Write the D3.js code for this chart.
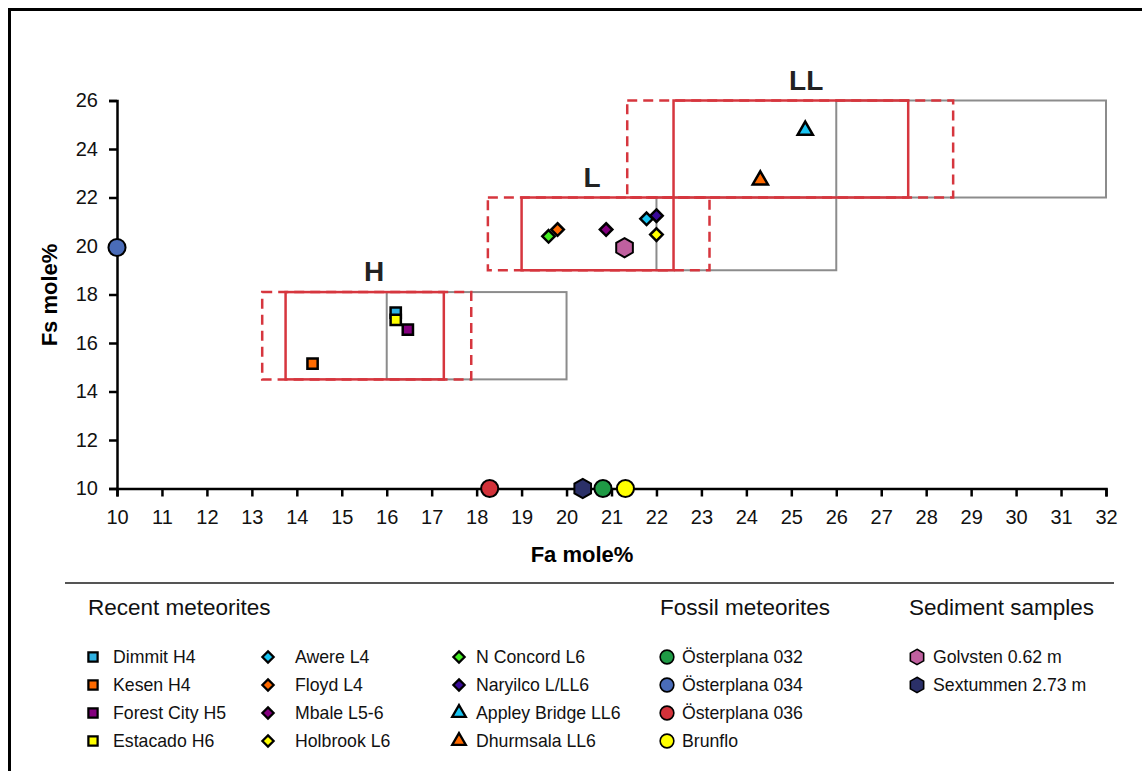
<!DOCTYPE html>
<meta charset="utf-8">
<title>Fa vs Fs mole%</title>
<script src="https://d3js.org/d3.v7.min.js"></script>
<style>
  body { margin: 0; background: #fff; }
  svg { font-family: "Liberation Sans", Arial, sans-serif; }
</style>
<body>
<script>
// ---- data ----
// recent meteorites
var recentNames = ["Dimmit H4", "Kesen H4", "Forest City H5", "Estacado H6",
                   "Awere L4", "Floyd L4", "Mbale L5-6", "Holbrook L6",
                   "N Concord L6", "Naryilco L/LL6", "Appley Bridge LL6", "Dhurmsala LL6"];
var recentFa = [16.2, 14.35, 16.47, 16.2, 21.78, 19.8, 20.88, 22.0, 19.6, 22.0, 25.31, 24.31];
var recentFs = [17.25, 15.15, 16.55, 16.95, 21.12, 20.68, 20.68, 20.47, 20.4, 21.25, 24.85, 22.8];
var recentShape = ["square", "square", "square", "square",
                   "diamond", "diamond", "diamond", "diamond",
                   "diamond", "diamond", "triangle", "triangle"];
var recentColors = ["#2fb0e0", "#ff6a00", "#84007f", "#ffff00",
                    "#19c4f2", "#ff6a00", "#84007f", "#ffff00",
                    "#44ee22", "#3a0a9a", "#19c4f2", "#ff6a00"];

// fossil meteorites
var fossilNames = ["Österplana 032", "Österplana 034", "Österplana 036", "Brunflo"];
var fossilFa = [20.81, 10, 18.29, 21.31];
var fossilFs = [10, 19.94, 10, 10];
var fossilColors = ["#1f9a45", "#4a6cb8", "#d2323a", "#ffff00"];

// sediment samples
var sedimentNames = ["Golvsten 0.62 m", "Sextummen 2.73 m"];
var sedimentFa = [21.29, 20.36];
var sedimentFs = [19.93, 10];
var sedimentColors = ["#c0609f", "#2b3068"];

// ranges of the ordinary chondrite groups
var groups = ["H", "L", "LL"];
var grayFaMin = [16, 22, 26], grayFaMax = [20, 26, 32];
var fsMin = [14.5, 19, 22], fsMax = [18.1, 22, 26];
var redFaMin = [13.75, 19.0, 22.38], redFaMax = [17.27, 22.38, 27.6];
var dashFaMin = [13.23, 18.25, 21.35], dashFaMax = [17.88, 23.18, 28.6];
var labelFa = [15.72, 20.57, 25.33];

var xTicks = d3.range(10, 33, 1);
var yTicks = d3.range(10, 27, 2);

// ---- layout ----
var W = 1142, H = 771;
var svg = d3.select("body").append("svg").attr("width", W).attr("height", H);

var x = d3.scaleLinear().domain([10, 32]).range([117, 1106]);
var y = d3.scaleLinear().domain([10, 26]).range([488.5, 100.5]);

// outer frame (right/bottom edges are off the picture)
svg.append("rect")
    .attr("x", 9.5).attr("y", 9.5).attr("width", 1150).attr("height", 780)
    .attr("fill", "none").attr("stroke", "#000").attr("stroke-width", 3);

var red = "#d6363e";

// gray boxes
groups.forEach(function(g, i) {
  svg.append("rect")
      .attr("x", x(grayFaMin[i])).attr("y", y(fsMax[i]))
      .attr("width", x(grayFaMax[i]) - x(grayFaMin[i]))
      .attr("height", y(fsMin[i]) - y(fsMax[i]))
      .attr("fill", "none").attr("stroke", "#8c8c8c").attr("stroke-width", 2);
});
// dashed red boxes
groups.forEach(function(g, i) {
  svg.append("rect")
      .attr("x", x(dashFaMin[i])).attr("y", y(fsMax[i]))
      .attr("width", x(dashFaMax[i]) - x(dashFaMin[i]))
      .attr("height", y(fsMin[i]) - y(fsMax[i]))
      .attr("fill", "none").attr("stroke", red).attr("stroke-width", 2.5)
      .attr("stroke-dasharray", "10,6");
});
// solid red boxes
groups.forEach(function(g, i) {
  svg.append("rect")
      .attr("x", x(redFaMin[i])).attr("y", y(fsMax[i]))
      .attr("width", x(redFaMax[i]) - x(redFaMin[i]))
      .attr("height", y(fsMin[i]) - y(fsMax[i]))
      .attr("fill", "none").attr("stroke", red).attr("stroke-width", 2.5);
  svg.append("text")
      .attr("x", x(labelFa[i])).attr("y", y(fsMax[i]) - 11)
      .attr("text-anchor", "middle")
      .attr("font-size", 28).attr("font-weight", "bold").attr("fill", "#222")
      .text(g);
});

// axes
var xAxis = svg.append("g")
    .attr("transform", "translate(0," + y(10) + ")")
    .call(d3.axisBottom(x).tickValues(xTicks).tickSize(8).tickPadding(13).tickFormat(d3.format("d")));
var yAxis = svg.append("g")
    .attr("transform", "translate(" + x(10) + ",0)")
    .call(d3.axisLeft(y).tickValues(yTicks).tickSize(8).tickPadding(11).tickFormat(d3.format("d")));
[xAxis, yAxis].forEach(function(a) {
  a.select(".domain").attr("stroke", "#000").attr("stroke-width", 2.5);
  a.selectAll(".tick line").attr("stroke", "#000").attr("stroke-width", 2.5);
  a.selectAll(".tick text").attr("font-size", 20).attr("fill", "#111")
      .attr("font-family", "Liberation Sans, Arial, sans-serif");
});

svg.append("text")
    .attr("x", 582).attr("y", 562)
    .attr("text-anchor", "middle").attr("font-size", 22).attr("font-weight", "bold")
    .text("Fa mole%");
svg.append("text")
    .attr("transform", "translate(57,295) rotate(-90)")
    .attr("text-anchor", "middle").attr("font-size", 22).attr("font-weight", "bold")
    .text("Fs mole%");

// ---- symbols ----
var hexagon = {
  draw: function(ctx, size) {
    var r = Math.sqrt(size / (1.5 * Math.sqrt(3)));
    for (var k = 0; k < 6; k++) {
      var a = Math.PI / 3 * k - Math.PI / 2;
      if (k === 0) ctx.moveTo(r * Math.cos(a), r * Math.sin(a));
      else ctx.lineTo(r * Math.cos(a), r * Math.sin(a));
    }
    ctx.closePath();
  }
};
var symbolTypes = {
  square: d3.symbolSquare,
  diamond: d3.symbolDiamond2,
  triangle: d3.symbolTriangle,
  circle: d3.symbolCircle,
  hexagon: hexagon
};
var symbolSizes = { square: 105, diamond: 100, triangle: 100, circle: 230, hexagon: 240 };

function marker(sel, shape, color) {
  sel.attr("d", d3.symbol().type(symbolTypes[shape]).size(symbolSizes[shape])())
     .attr("fill", color)
     .attr("stroke", "#000")
     .attr("stroke-width", shape === "circle" || shape === "hexagon" ? 2 : 2.5)
     .attr("stroke-linejoin", "miter");
}

// ---- points ----
var pts = svg.append("g");
sedimentNames.forEach(function(n, i) {
  pts.append("path").attr("transform", "translate(" + x(sedimentFa[i]) + "," + y(sedimentFs[i]) + ")")
     .call(marker, "hexagon", sedimentColors[i]);
});
fossilNames.forEach(function(n, i) {
  pts.append("path").attr("transform", "translate(" + x(fossilFa[i]) + "," + y(fossilFs[i]) + ")")
     .call(marker, "circle", fossilColors[i]);
});
recentNames.forEach(function(n, i) {
  var dy = recentShape[i] === "triangle" ? 2 : 0;
  pts.append("path").attr("transform", "translate(" + x(recentFa[i]) + "," + (y(recentFs[i]) + dy) + ")")
     .call(marker, recentShape[i], recentColors[i]);
});

// ---- legend ----
svg.append("line")
    .attr("x1", 65).attr("x2", 1114).attr("y1", 583).attr("y2", 583)
    .attr("stroke", "#555").attr("stroke-width", 2);

var headers = ["Recent meteorites", "Fossil meteorites", "Sediment samples"];
var headerX = [88, 660, 909];
headers.forEach(function(h, i) {
  svg.append("text").attr("x", headerX[i]).attr("y", 615)
     .attr("font-size", 22.5).attr("fill", "#111").text(h);
});

var rowY = [657, 685, 713, 741];
var leg = svg.append("g").attr("font-size", 17.7).attr("fill", "#111");
function legendItem(mx, tx, yy, shape, color, label) {
  var sizeScale = shape === "circle" || shape === "hexagon" ? 0.8 : 0.9;
  leg.append("path")
     .attr("transform", "translate(" + mx + "," + yy + ") scale(" + sizeScale + ")")
     .call(marker, shape, color);
  leg.append("text").attr("x", tx).attr("y", yy + 6).text(label);
}
var colMarkX = [93, 268, 459], colTextX = [113, 295, 476];
recentNames.forEach(function(n, i) {
  var c = Math.floor(i / 4), r = i % 4;
  legendItem(colMarkX[c], colTextX[c], rowY[r], recentShape[i], recentColors[i], n);
});
fossilNames.forEach(function(n, i) {
  legendItem(667, 682, rowY[i], "circle", fossilColors[i], n);
});
sedimentNames.forEach(function(n, i) {
  legendItem(917, 933, rowY[i], "hexagon", sedimentColors[i], n);
});
</script>
</body>
